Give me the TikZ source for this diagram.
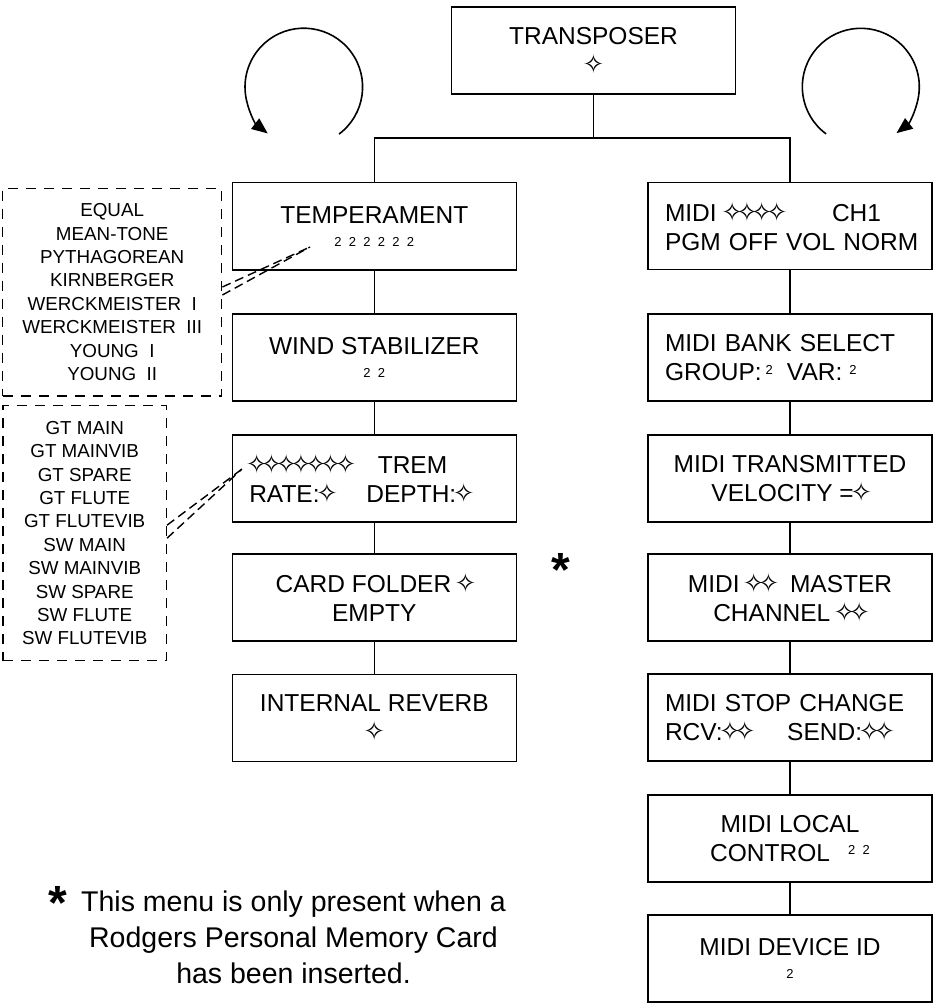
\documentclass[tikz,border=0pt]{standalone}
\usepackage{fontspec}
\setmainfont{Liberation Sans}
\newfontfamily\symfont{DejaVu Sans}
\usetikzlibrary{arrows.meta}
\usetikzlibrary{positioning}

\newcommand\sym{\kern-3.5pt{\symfont\fontsize{26}{26}\selectfont ✧}\kern-3.5pt}
\newcommand\twos[1]{{\fontsize{13}{13}\selectfont #1}}
\newcommand\twgap{\hspace{7.3pt}}
\newcommand\up[1]{\raisebox{6.5pt}{\twos{#1}}}

\tikzset{
  menubox/.style={draw,line width=1.6pt,minimum width=284pt,minimum height=87pt,
    inner sep=0pt,align=center,font=\fontsize{24.5}{29}\selectfont},
  leftbox/.style={menubox,text width=250pt,align=left},
  listbox/.style={draw,line width=1.4pt,dash pattern=on 10pt off 8pt,inner sep=0pt,
    align=center,font=\fontsize{18.8}{23.4}\selectfont},
  wire/.style={line width=1.2pt},
  guide/.style={line width=1.4pt,dash pattern=on 9pt off 5pt},
  roundarrow/.style={line width=1.6pt,-{Triangle[length=16pt,width=13pt]}},
  remark/.style={align=center,inner sep=0pt,font=\fontsize{28.5}{35.7}\selectfont},
  astx/.style={inner sep=0pt,anchor=north,font=\fontsize{48}{48}\bfseries}
}

\begin{document}
\begin{tikzpicture}[x=1pt,y=-1pt]
\useasboundingbox (0,0) rectangle (934,1003);

\node[menubox] (trans) at (593.5,50.5) {TRANSPOSER\\\sym};

\node[menubox] (temp) at (374.3,226.2) {TEMPERAMENT\\[-6pt]\twos{2\twgap2\twgap2\twgap2\twgap2\twgap2}};
\node[menubox] (wind) at (374.3,357.7) {WIND STABILIZER\\[-6pt]\twos{2\twgap2}};
\node[leftbox] (trem) at (374.3,478.3) {\sym\sym\sym\sym\sym\sym\sym\hspace{25pt}TREM\\RATE:\sym\hspace{32pt}DEPTH:\sym};
\node[menubox] (card) at (374.3,597.3) {CARD FOLDER \sym\\EMPTY};
\node[menubox] (reverb) at (374.3,717.8) {INTERNAL REVERB\\\sym};

\node[leftbox] (chan) at (790,226) {MIDI \sym\sym\sym\sym\hspace{48pt}CH1\\\mbox{PGM OFF VOL NORM}};
\node[leftbox] (bank) at (790,357.7) {MIDI BANK SELECT\\GROUP:\,\up{2}\hspace{14pt}VAR:\hspace{7pt}\up{2}};
\node[menubox] (velo) at (790,478.7) {MIDI TRANSMITTED\\VELOCITY =\sym};
\node[menubox] (master) at (790,597.2) {MIDI \sym\sym\hspace{14pt}MASTER\\CHANNEL \sym\sym};
\node[leftbox] (stop) at (790,717.7) {\mbox{MIDI STOP CHANGE}\\RCV:\sym\sym\hspace{35pt}SEND:\sym\sym};
\node[menubox] (local) at (790,838.5) {MIDI LOCAL\\CONTROL\hspace{18pt}\up{2\twgap2}};
\node[menubox] (devid) at (790,958.5) {MIDI DEVICE ID\\[-6pt]\twos{2}};

\node[listbox,minimum width=219pt,minimum height=207.7pt] (temps) at (112.2,292.2)
  {EQUAL\\MEAN-TONE\\PYTHAGOREAN\\KIRNBERGER\\WERCKMEISTER\ \ I\\WERCKMEISTER\ \ III\\YOUNG\ \ I\\YOUNG\ \ II};
\node[listbox,minimum width=163.3pt,minimum height=255pt] (stops) at (84.7,533.2)
  {GT MAIN\\GT MAINVIB\\GT SPARE\\GT FLUTE\\GT FLUTEVIB\\SW MAIN\\SW MAINVIB\\SW SPARE\\SW FLUTE\\SW FLUTEVIB};

\coordinate (fork) at (593.5,138);
\draw[wire] (trans) -- (fork);
\draw[wire] (fork) -| (temp);
\draw[wire] (fork) -| (chan);
\foreach \from/\to in
  {temp/wind, wind/trem, trem/card, card/reverb,
   chan/bank, bank/velo, velo/master, master/stop, stop/local, local/devid}
  \draw[wire] (\from) -- (\to);

\coordinate (tempin) at (310,247);
\coordinate (tremin) at (242,469);
\draw[guide] ([yshift=5.2pt]temps.east) -- (tempin);
\draw[guide] ([yshift=-2.8pt]temps.east) -- (tempin);
\draw[guide] ([yshift=8pt]stops.east) -- (tremin);
\draw[guide] ([yshift=-5pt]stops.east) -- (tremin);

\coordinate (lc) at (303.8,87);
\coordinate (rc) at (860.8,86.8);
\draw[roundarrow] ([shift={(53.2:58.8)}]lc) arc[start angle=53.2,end angle=-232.2,radius=58.8];
\draw[roundarrow] ([shift={(126.4:58.5)}]rc) arc[start angle=126.4,end angle=412.4,radius=58.5];

\node[astx] (cardstar) at (561,553) {*};
\node[astx] (notestar) at (58,886) {*};
\node[remark] (note) at (293.5,937.5) {This menu is only present when a\\Rodgers Personal Memory Card\\has been inserted.};
\end{tikzpicture}
\end{document}
